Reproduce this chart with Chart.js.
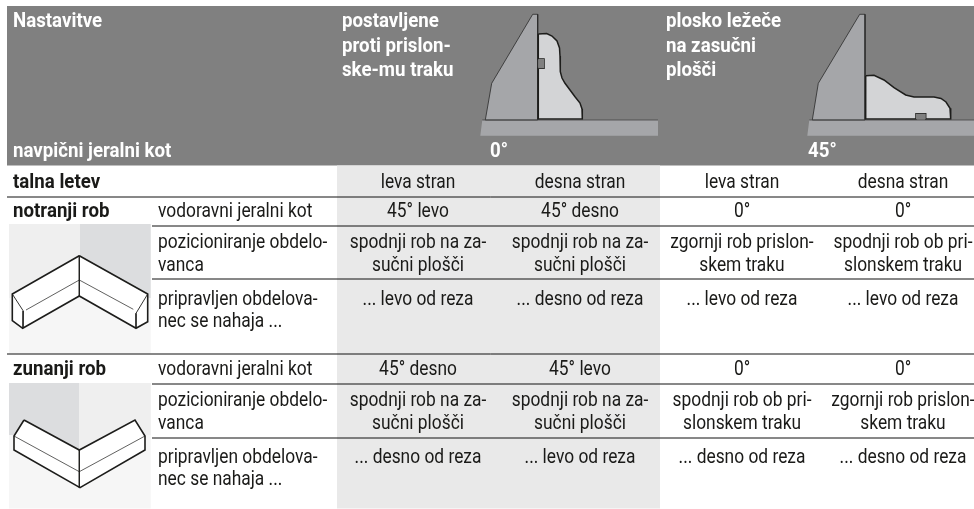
<!DOCTYPE html>
<html>
<head>
<meta charset="utf-8">
<script src="https://cdn.jsdelivr.net/npm/chart.js@4"></script>
<style>
  html, body { margin: 0; padding: 0; background: #fff; }
  canvas { display: block; }
</style>
</head>
<body>
<canvas id="tabela" width="974" height="509"></canvas>
<script>
// table text
const headerTitles = ["Nastavitve", "navpični jeralni kot"];
const headerFlush = ["postavljene", "proti prislon-", "ske-mu traku"];
const headerFlat = ["plosko ležeče", "na zasučni", "plošči"];
const headerAngles = ["0°", "45°"];
const rowTitles = ["talna letev", "notranji rob", "zunanji rob"];
const rowLabels = ["vodoravni jeralni kot", "pozicioniranje obdelo-", "vanca", "pripravljen obdelova-", "nec se nahaja ..."];
const sides = ["leva stran", "desna stran", "leva stran", "desna stran"];
const innerAngles = ["45° levo", "45° desno", "0°", "0°"];
const outerAngles = ["45° desno", "45° levo", "0°", "0°"];
const innerPosition = [
  ["spodnji rob na za-", "sučni plošči"],
  ["spodnji rob na za-", "sučni plošči"],
  ["zgornji rob prislon-", "skem traku"],
  ["spodnji rob ob pri-", "slonskem traku"]
];
const outerPosition = [
  ["spodnji rob na za-", "sučni plošči"],
  ["spodnji rob na za-", "sučni plošči"],
  ["spodnji rob ob pri-", "slonskem traku"],
  ["zgornji rob prislon-", "skem traku"]
];
const innerCut = ["... levo od reza", "... desno od reza", "... levo od reza", "... levo od reza"];
const outerCut = ["... desno od reza", "... levo od reza", "... desno od reza", "... desno od reza"];

// table grid, in scale units
const columnCentres = [418, 580, 742, 903];
const fullRules = [197, 354];
const shortRules = [226, 279, 384, 438];

// outlines of the drawings
const fence0 = [[485.3,120],[491.7,83.3],[532.7,14.3],[537.7,14.3],[537.7,120]];
const base0 = [[482.3,120],[658,120],[658,135.7],[480.3,135.7]];
const profile0 = [[538.3,34],[546.7,33.5],[552,36],[557,41],[559.5,48],[560,56],[560.3,71.7],[562,78],[565,83.3],[570,90],[575,96.7],[580,103],[582,109],[582.3,119],[538.3,119],[538.3,68.3],[544,68.3],[544,59],[538.3,59]];
const notch0 = [[538.3,59],[544,59],[544,68.3],[538.3,68.3]];
const fence45 = [[812.3,120],[818.3,83.3],[859.7,14.3],[865,14.3],[865,120]];
const base45 = [[809.3,120],[974,120],[974,135.7],[807.3,135.7]];
const profile45 = [[865.7,75.7],[874,75.3],[884,80],[894,87.7],[905.7,95],[914,97],[934,97],[941,98.5],[946,102],[950,108.3],[950.7,119],[925.7,119],[925.7,113.7],[916,113.7],[916,119],[865.7,119]];
const notch45 = [[916,119],[916,113.7],[925.7,113.7],[925.7,119]];

const innerFloor = [[9,224],[150.7,224],[150.7,353.5],[9,353.5]];
const innerWallL = [[9,224],[80,224],[80,298],[9,298]];
const innerWallR = [[80,224],[150.7,224],[150.7,298],[80,298]];
const innerBody = [[79.3,255.7],[12.3,294],[12.3,320.7],[22.7,328.3],[79.3,296],[136,328.3],[147.7,321.7],[147.7,294]];
const innerThin = [[26,310],[79.3,280],[133.3,309.3]];
const innerMarks = [
  [[12.3,294],[23.3,311],[23,328]],
  [[147.7,294],[136,313.3],[136,328]],
  [[79.3,255.7],[79.3,296]]
];
const outerFloor = [[9,383],[150.7,383],[150.7,508.5],[9,508.5]];
const outerWallL = [[9,383],[79,383],[79,450],[52,435],[9,435]];
const outerWallR = [[79,383],[150.7,383],[150.7,435],[107,435],[79,450]];
const outerBody = [[24,420],[79.3,450],[135,420],[145,436],[145,450],[80,487.7],[14,450],[14,436]];
const outerThin = [[14,436],[79.3,471.7],[145,436]];
const outerMark = [[79.3,450],[79.3,487.7]];

const toPoints = arr => arr.map(p => ({ x: p[0], y: p[1] }));

// filled outline
function shape(arr, fillColor, lineColor, lineWidth) {
  const closed = lineColor ? arr.concat([arr[0]]) : arr;
  return {
    type: "scatter",
    data: toPoints(closed),
    showLine: true,
    fill: "shape",
    backgroundColor: fillColor,
    borderColor: lineColor || "transparent",
    borderWidth: lineColor ? lineWidth : 0,
    pointRadius: 0,
    tension: 0,
    clip: false
  };
}

// open line
function rule(arr, lineColor, lineWidth) {
  return {
    type: "scatter",
    data: toPoints(arr),
    showLine: true,
    fill: false,
    borderColor: lineColor,
    borderWidth: lineWidth,
    pointRadius: 0,
    tension: 0,
    clip: false
  };
}

const dark = "#1d1d1b";
const layers = [
  shape([[7,6],[974,6],[974,165.5],[7,165.5]], "#808080"),
  shape(base0, "#a5a6a9"),
  shape(fence0, "#a5a6a9", "#2a2a2a", 0.8),
  shape(profile0, "#d3d4d6", dark, 1.5),
  shape(notch0, "#808080"),
  shape(base45, "#a5a6a9"),
  shape(fence45, "#a5a6a9", "#2a2a2a", 0.8),
  shape(profile45, "#d3d4d6", dark, 1.5),
  shape(notch45, "#808080"),
  rule([[482.3,120],[658,120]], "#444", 0.8),
  rule([[809.3,120],[974,120]], "#444", 0.8),
  shape([[337,165.5],[660,165.5],[660,508.5],[337,508.5]], "#e9e9e9"),
  shape(innerFloor, "#f6f6f6"),
  shape(innerWallL, "#efefef"),
  shape(innerWallR, "#dcdddf"),
  shape(innerBody, "#ffffff", dark, 1.6),
  rule(innerThin, dark, 0.7),
  shape(outerFloor, "#f6f6f6"),
  shape(outerWallL, "#dcdddf"),
  shape(outerWallR, "#efefef"),
  shape(outerBody, "#ffffff", dark, 1.6),
  rule(outerThin, dark, 0.7),
  rule(outerMark, dark, 0.9)
];
innerMarks.forEach(m => layers.push(rule(m, dark, 0.9)));
fullRules.forEach(y => layers.push(rule([[7,y],[974,y]], "#111", 1)));
shortRules.forEach(y => layers.push(rule([[152,y],[974,y]], "#111", 1)));

// cell text goes through the same scales as the marks
const textPlugin = {
  id: "tableText",
  afterDatasetsDraw(chart) {
    const c = chart.ctx;
    const sx = chart.scales.x;
    const sy = chart.scales.y;
    function put(text, x, y, bold, color, align) {
      c.save();
      c.font = bold ? "bold 21px Roboto" : "20.2px Roboto";
      c.fillStyle = color;
      c.textBaseline = "alphabetic";
      c.textAlign = align || "left";
      c.translate(sx.getPixelForValue(x), sy.getPixelForValue(y));
      c.scale(bold ? 0.89 : 0.86, 1);
      c.fillText(text, 0, 0);
      c.restore();
    }
    const white = "#ffffff";
    const ink = "#1a1a18";

    put(headerTitles[0], 13, 27, true, white);
    put(headerTitles[1], 13, 157, true, white);
    headerFlush.forEach((t, i) => put(t, 342, 27 + i * 24.5, true, white));
    headerFlat.forEach((t, i) => put(t, 666, 27 + i * 24.5, true, white));
    put(headerAngles[0], 490, 157, true, white);
    put(headerAngles[1], 808, 157, true, white);

    put(rowTitles[0], 13, 188, true, ink);
    put(rowTitles[1], 13, 217, true, ink);
    put(rowTitles[2], 13, 375, true, ink);

    [0, 158].forEach(dy => {
      put(rowLabels[0], 158, 217 + dy, false, ink);
      put(rowLabels[1], 158, 248 + dy, false, ink);
      put(rowLabels[2], 158, 271 + dy, false, ink);
      put(rowLabels[3], 158, 305 + dy, false, ink);
      put(rowLabels[4], 158, 327 + dy, false, ink);
    });

    columnCentres.forEach((x, i) => {
      put(sides[i], x, 188, false, ink, "center");
      put(innerAngles[i], x, 217, false, ink, "center");
      put(innerPosition[i][0], x, 248, false, ink, "center");
      put(innerPosition[i][1], x, 271, false, ink, "center");
      put(innerCut[i], x, 305, false, ink, "center");
      put(outerAngles[i], x, 375, false, ink, "center");
      put(outerPosition[i][0], x, 406, false, ink, "center");
      put(outerPosition[i][1], x, 429, false, ink, "center");
      put(outerCut[i], x, 463, false, ink, "center");
    });
  }
};

// chart.js paints the first dataset last, so flip to keep painter's order
new Chart(document.getElementById("tabela").getContext("2d"), {
  type: "scatter",
  data: { datasets: layers.slice().reverse() },
  options: {
    responsive: false,
    animation: false,
    layout: { padding: 0 },
    plugins: { legend: { display: false }, tooltip: { enabled: false }, title: { display: false } },
    scales: {
      x: { type: "linear", min: 0, max: 974, display: false },
      y: { type: "linear", min: 0, max: 509, reverse: true, display: false }
    }
  },
  plugins: [textPlugin]
});
</script>
</body>
</html>
